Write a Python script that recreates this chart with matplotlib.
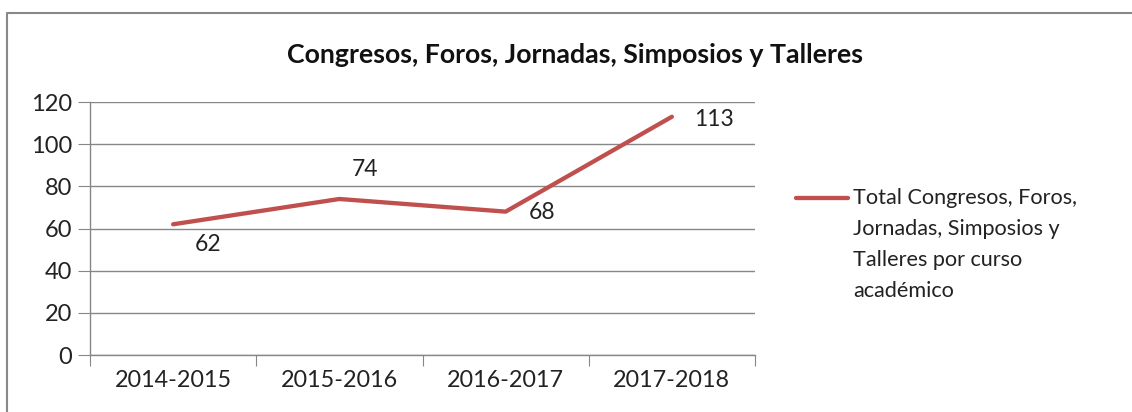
import matplotlib
matplotlib.use("Agg")
import matplotlib.pyplot as plt
from matplotlib.lines import Line2D

plt.rcParams["font.family"] = ["Lato", "DejaVu Sans"]

cursos = ["2014-2015", "2015-2016", "2016-2017", "2017-2018"]
totales = [62, 74, 68, 113]
# label offsets in pixels, as placed in the original
offsets = [(35, -20), (26, 29), (36, -1), (42, -3)]
titulo = "Congresos, Foros, Jornadas, Simposios y Talleres"
leyenda = "Total Congresos, Foros,\nJornadas, Simposios y\nTalleres por curso\nacadémico"

rojo = "#C0504D"
gris = "#878787"
texto = "#222222"

fig = plt.figure(figsize=(11.32, 4.12), dpi=100)
ax = fig.add_axes([90 / 1132, 1 - 355 / 412, (755 - 90) / 1132, (355 - 102) / 412])

x = list(range(len(cursos)))
ax.plot(x, totales, color=rojo, lw=3.1, solid_capstyle="round", zorder=3)
for xi, v, off in zip(x, totales, offsets):
    ax.annotate(str(v), (xi, v), xytext=off, textcoords="offset pixels",
                ha="center", va="center", fontsize=16.5, color=texto)

ax.set_xlim(-0.5, 3.5)
ax.set_ylim(0, 120)
ax.set_yticks(range(0, 121, 20))
ax.set_xticks([i - 0.5 for i in range(5)])
ax.set_xticklabels([])
ax.set_xticks(x, minor=True)
ax.set_xticklabels(cursos, minor=True)
ax.tick_params(axis="x", which="minor", length=0, pad=11, labelsize=16.8, labelcolor=texto)
ax.tick_params(axis="x", which="major", length=8, color=gris, direction="out")
ax.tick_params(axis="y", length=9, color=gris, pad=4, labelsize=17, labelcolor=texto)
ax.yaxis.grid(True, color=gris, lw=1)
ax.set_axisbelow(True)
for s in ["top", "right"]:
    ax.spines[s].set_visible(False)
for s in ["left", "bottom"]:
    ax.spines[s].set_color(gris)
    ax.spines[s].set_linewidth(1)

fig.text(575 / 1132, 1 - 55 / 412, titulo, ha="center", va="center",
         fontsize=19.3, fontweight="bold", color="#111111")

# legend drawn by hand
fig.add_artist(Line2D([796 / 1132, 848 / 1132], [1 - 198 / 412] * 2, color=rojo,
                      lw=3.1, solid_capstyle="round"))
fig.text(853 / 1132, 1 - 188 / 412, leyenda, ha="left", va="top", fontsize=15.6,
         linespacing=1.68, color=texto)

# outer chart border (top and left visible)
fig.add_artist(Line2D([7 / 1132, 7 / 1132, 1.0], [0.0, 1 - 13 / 412, 1 - 13 / 412],
                      color="#888888", lw=1.5))

fig.savefig("out.png", dpi=100)
